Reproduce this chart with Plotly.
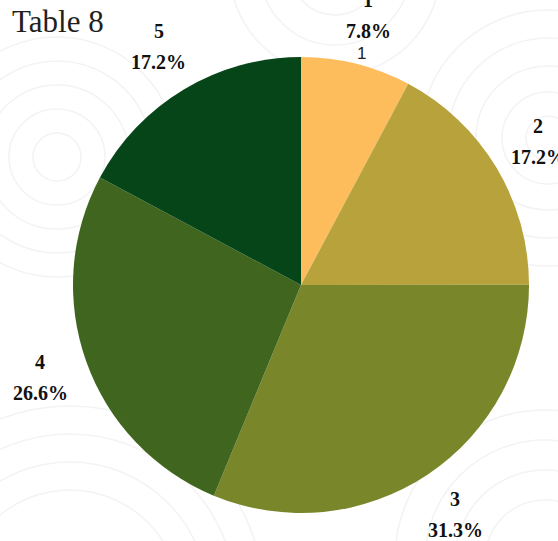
import math
import plotly.graph_objects as go

# Chart data
categories = ["1", "2", "3", "4", "5"]
shares = [7.8, 17.2, 31.3, 26.6, 17.2]
share_labels = ["7.8%", "17.2%", "31.3%", "26.6%", "17.2%"]
colors = ["#fdbd5c", "#b8a23c", "#7a862a", "#40651e", "#054517"]

W, H = 558, 541
CX, CY, R = 301, 285, 228          # pie centre and radius in pixels
LABEL_R = 277                      # distance of the label blocks from the centre
SERIF = "Liberation Serif, Times New Roman, DejaVu Serif, serif"

fig = go.Figure()
fig.add_trace(go.Pie(
    labels=categories,
    values=shares,
    sort=False,
    direction="clockwise",
    rotation=0,
    marker=dict(colors=colors, line=dict(width=0)),
    textinfo="none",
    showlegend=False,
    domain=dict(x=[(CX - R) / W, (CX + R) / W],
                y=[(H - CY - R) / H, (H - CY + R) / H]),
))

# faint concentric-circle watermark in the background
rings = [
    ((57, 157), [24, 48, 72, 96, 120]),
    ((70, 600), [110, 138, 166, 194]),
    ((548, 138), [22, 46, 72, 100, 128]),
    ((335, -30), [45, 75, 105]),
    ((545, 560), [60, 90, 120, 150]),
]
shapes = []
for (cx, cy), radii in rings:
    for r in radii:
        shapes.append(dict(
            type="circle", xref="paper", yref="paper", layer="below",
            x0=(cx - r) / W, x1=(cx + r) / W,
            y0=(H - cy - r) / H, y1=(H - cy + r) / H,
            line=dict(color="#f3f3f3", width=1.5),
        ))

# outside labels placed at each slice's mid-angle
annotations = []
total = sum(shares)
cum = 0.0
label_font = dict(family=SERIF, size=20, color="#111111")
for cat, val, txt in zip(categories, shares, share_labels):
    mid = (cum + val / 2) / total * 2 * math.pi
    cum += val
    px = CX + LABEL_R * math.sin(mid)
    py = CY - LABEL_R * math.cos(mid)
    xp, yp = px / W, (H - py) / H
    annotations.append(dict(x=xp, y=yp, xref="paper", yref="paper",
                            xanchor="center", yanchor="middle",
                            text=f"<b>{cat}</b>", showarrow=False,
                            font=label_font, yshift=16))
    annotations.append(dict(x=xp, y=yp, xref="paper", yref="paper",
                            xanchor="center", yanchor="middle",
                            text=f"<b>{txt}</b>", showarrow=False,
                            font=label_font, yshift=-15))

# small plain marker label on the first slice
annotations.append(dict(x=361 / W, y=(H - 53) / H, xref="paper", yref="paper",
                        xanchor="center", yanchor="middle",
                        text="1", showarrow=False,
                        font=dict(family="Liberation Sans, Arial, sans-serif",
                                  size=17, color="#222222")))

# title
annotations.append(dict(x=10 / W, y=(H - 22) / H, xref="paper", yref="paper",
                        xanchor="left", yanchor="middle",
                        text="Table 8", showarrow=False,
                        font=dict(family=SERIF, size=31, color="#231f20")))

fig.update_layout(
    width=W, height=H,
    margin=dict(l=0, r=0, t=0, b=0),
    paper_bgcolor="white",
    plot_bgcolor="white",
    shapes=shapes,
    annotations=annotations,
)

fig.write_html("out.html")
